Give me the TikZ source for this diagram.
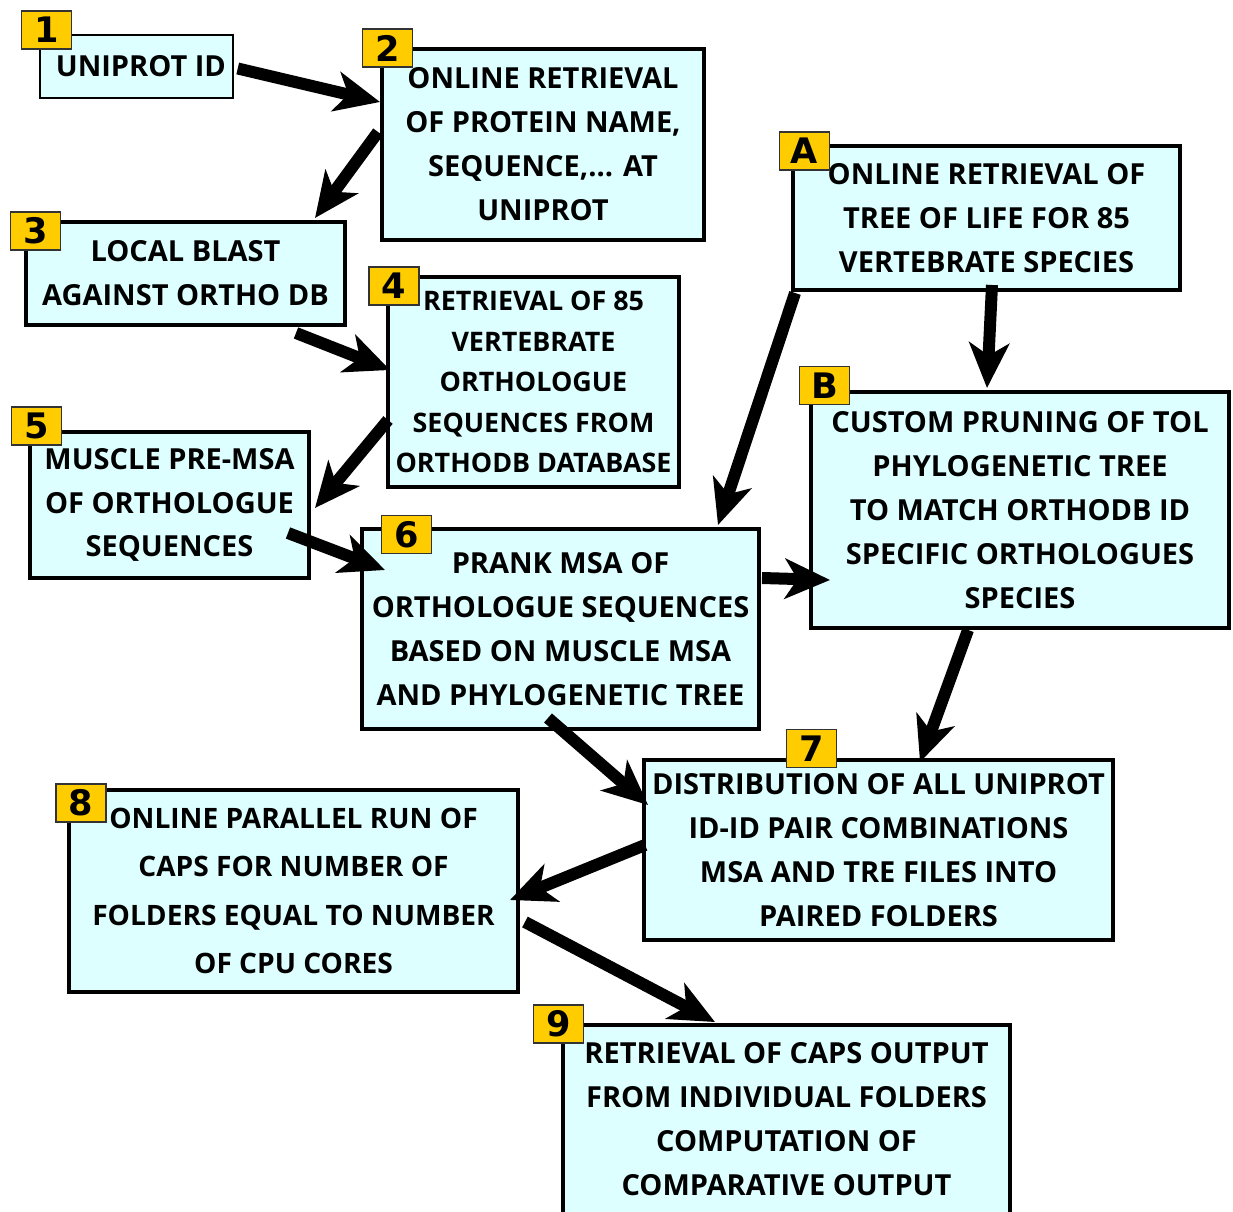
\documentclass[tikz,border=0pt]{standalone}
\usepackage{fontspec}
\setmainfont{Open Sans}
\newfontfamily\tagfont{DejaVu Sans}
\usetikzlibrary{arrows.meta,calc}
\definecolor{boxfill}{RGB}{221,255,255}
\definecolor{tagfill}{RGB}{255,204,0}
\tikzset{
  stepbox/.style={draw=black, line width=0.08cm, fill=boxfill, align=center, inner sep=0pt,
    font=\bfseries\fontsize{16.5}{25}\selectfont},
  tag/.style={draw=black!80, line width=0.03cm, fill=tagfill, inner sep=0pt,
    minimum width=1.0cm, minimum height=0.76cm, font=\tagfont\bfseries\fontsize{20}{20}\selectfont},
  flow/.style={line width=0.24cm, -{Stealth[length=0.9cm,width=0.8cm,inset=0.25cm]}}
}
\begin{document}
\begin{tikzpicture}[x=0.02cm,y=-0.02cm]
  \useasboundingbox (0,0) rectangle (1233,1212);
  %% boxes
  \node[stepbox, line width=0.03cm, minimum width=3.86cm, minimum height=1.26cm] (step1) at (136.5,66.5) {\hspace{5pt}UNIPROT ID};
  \node[stepbox, minimum width=6.44cm, minimum height=3.82cm] (step2) at (543,144.5)
    {ONLINE RETRIEVAL\\OF PROTEIN NAME,\\SEQUENCE,... AT\\UNIPROT};
  \node[stepbox, minimum width=6.38cm, minimum height=2.06cm] (step3) at (185.5,273.5)
    {LOCAL BLAST\\AGAINST ORTHO DB};
  \node[stepbox, minimum width=5.82cm, minimum height=4.20cm, font=\bfseries\fontsize{15.3}{23}\selectfont] (step4) at (533.5,382)
    {RETRIEVAL OF 85\\VERTEBRATE\\ORTHOLOGUE\\SEQUENCES FROM\\ORTHODB DATABASE};
  \node[stepbox, minimum width=5.58cm, minimum height=2.92cm] (step5) at (169.5,505)
    {MUSCLE PRE-MSA\\OF ORTHOLOGUE\\SEQUENCES};
  \node[stepbox, minimum width=7.94cm, minimum height=4.00cm] (step6) at (560.5,629)
    {PRANK MSA OF\\ORTHOLOGUE SEQUENCES\\BASED ON MUSCLE MSA\\AND PHYLOGENETIC TREE};
  \node[stepbox, minimum width=7.74cm, minimum height=2.88cm] (stepA) at (986.5,218)
    {ONLINE RETRIEVAL OF\\TREE OF LIFE FOR 85\\VERTEBRATE SPECIES};
  \node[stepbox, minimum width=8.36cm, minimum height=4.72cm] (stepB) at (1020,510)
    {CUSTOM PRUNING OF TOL\\PHYLOGENETIC TREE\\TO MATCH ORTHODB ID\\SPECIFIC ORTHOLOGUES\\SPECIES};
  \node[stepbox, minimum width=9.38cm, minimum height=3.60cm] (step7) at (878.5,850)
    {DISTRIBUTION OF ALL UNIPROT\\ID-ID PAIR COMBINATIONS\\MSA AND TRE FILES INTO\\PAIRED FOLDERS};
  \node[stepbox, minimum width=8.98cm, minimum height=4.04cm, font=\bfseries\fontsize{16}{27.5}\selectfont] (step8) at (293.5,891)
    {ONLINE PARALLEL RUN OF\\CAPS FOR NUMBER OF\\FOLDERS EQUAL TO NUMBER\\OF CPU CORES};
  \node[stepbox, minimum width=8.94cm, minimum height=3.78cm] (step9) at (786.5,1119.5)
    {RETRIEVAL OF CAPS OUTPUT\\FROM INDIVIDUAL FOLDERS\\COMPUTATION OF\\COMPARATIVE OUTPUT};
  %% arrows
  \draw[flow] ($(step1.east)+(4,2)$) -- ($(step2.west)+(0,-42.5)$);
  \draw[flow] ($(step2.west)+(-2,-12.5)$) -- ($(step3.north)+(129.5,-2)$);
  \draw[flow] ($(step3.south)+(110.5,6)$) -- ($(step4.west)+(4,-12)$);
  \draw[flow] ($(step4.west)+(2,38)$) -- ($(step5.east)+(4,3)$);
  \draw[flow] ($(step5.east)+(-23,28)$) -- ($(step6.west)+(25,-59)$);
  \draw[flow] ($(stepA.south west)+(4,1)$) -- ($(step6.north)+(157.5,-2)$);
  \draw[flow] ($(stepA.south)+(5.5,-7)$) -- ($(stepB.north)+(-33,-2)$);
  \draw[flow] ($(step6.east)+(1,-51)$) -- ($(stepB.west)+(21,70)$);
  \draw[flow] ($(stepB.south)+(-52,0)$) -- ($(step7.north)+(41.5,4)$);
  \draw[flow] ($(step6.south)+(-12.5,-13)$) -- ($(step7.west)+(6,-45)$);
  \draw[flow] ($(step7.west)+(3,-5)$) -- ($(step8.east)+(-10,9)$);
  \draw[flow] ($(step8.east)+(5,31)$) -- ($(step9.north)+(-71.5,-1)$);
  %% number tags
  \foreach \lbl/\x/\y in {1/46.5/30, 2/387.5/48, 3/35.5/231, 4/394/286, 5/36.5/426,
      6/406.5/534.5, A/804.5/151, B/824.5/385.5, 7/811.5/748.5, 8/81/803, 9/558.5/1024}{
    \node[tag] (tag\lbl) at (\x,\y) {\lbl};
  }
\end{tikzpicture}
\end{document}
